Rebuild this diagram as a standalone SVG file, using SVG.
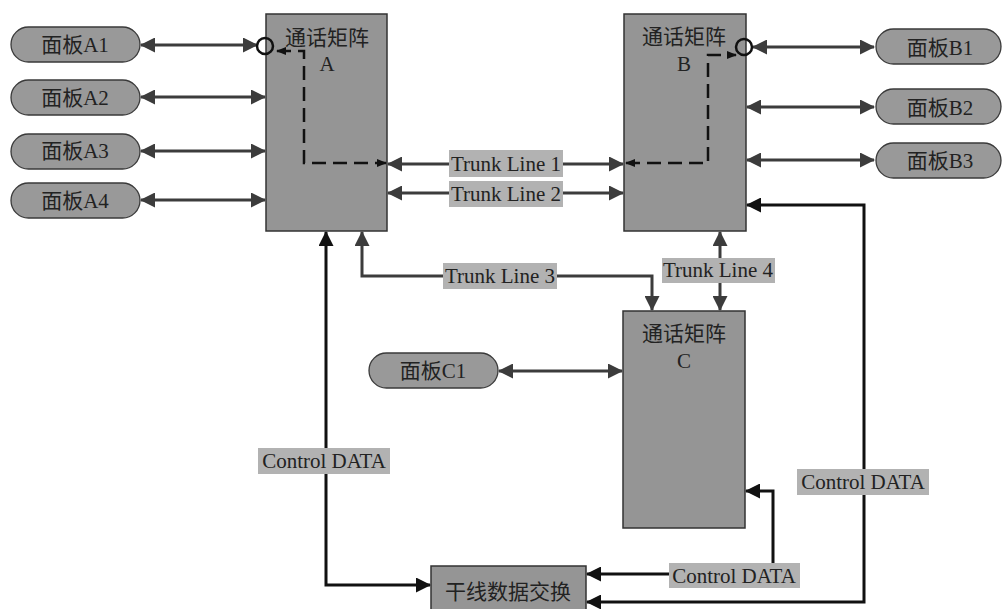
<svg xmlns="http://www.w3.org/2000/svg" width="1002" height="609" viewBox="0 0 1002 609">
<defs>
<marker id="ah" viewBox="0 0 15 15" refX="14" refY="7.5" markerWidth="15" markerHeight="15" markerUnits="userSpaceOnUse" orient="auto-start-reverse">
<path d="M0,0 L15,7.5 L0,15 z" fill="#3c3c3c"/>
</marker>
<marker id="ahk" viewBox="0 0 15 15" refX="14" refY="7.5" markerWidth="15" markerHeight="15" markerUnits="userSpaceOnUse" orient="auto-start-reverse">
<path d="M0,0 L15,7.5 L0,15 z" fill="#111"/>
</marker>
<marker id="ahs" viewBox="0 0 10 8" refX="9" refY="4" markerWidth="10" markerHeight="8" markerUnits="userSpaceOnUse" orient="auto-start-reverse">
<path d="M0,0 L10,4 L0,8 z" fill="#111"/>
</marker>
</defs>
<style>
.mx{fill:#959595;stroke:#333;stroke-width:1.5}
.pill{fill:#999;stroke:#3a3a3a;stroke-width:1.3}
.lbl{fill:#b2b2b2}
.t{font-family:"Liberation Serif","Noto Sans CJK SC",serif;font-size:21px;fill:#222;text-anchor:middle}
.ln{fill:none;stroke:#3c3c3c;stroke-width:3;marker-start:url(#ah);marker-end:url(#ah)}
.ctl{fill:none;stroke:#111;stroke-width:3;marker-start:url(#ahk);marker-end:url(#ahk)}
.dash{fill:none;stroke:#111;stroke-width:2.5;stroke-dasharray:14 7;marker-start:url(#ahs);marker-end:url(#ahs)}
.ring{fill:none;stroke:#111;stroke-width:2.5}
</style>
<rect width="1002" height="609" fill="#fff"/>

<g id="matrixA"><rect class="mx" x="266" y="14" width="121" height="217"/><text class="t" x="327" y="45">通话矩阵</text><text class="t" x="327" y="71">A</text></g>
<g id="matrixB"><rect class="mx" x="624" y="14" width="122" height="217"/><text class="t" x="684" y="44">通话矩阵</text><text class="t" x="684" y="71">B</text></g>
<g id="matrixC"><rect class="mx" x="623" y="311" width="122" height="217"/><text class="t" x="684" y="341">通话矩阵</text><text class="t" x="684" y="368">C</text></g>
<g id="exchange"><rect class="mx" x="431" y="566" width="155" height="50"/><text class="t" x="508" y="599">干线数据交换</text></g>

<g id="panelA1"><rect class="pill" x="11" y="27" width="129" height="35" rx="17.5"/><text class="t" x="75" y="52">面板A1</text></g>
<g id="panelA2"><rect class="pill" x="11" y="80" width="129" height="35" rx="17.5"/><text class="t" x="75" y="105">面板A2</text></g>
<g id="panelA3"><rect class="pill" x="11" y="134" width="129" height="35" rx="17.5"/><text class="t" x="75" y="158">面板A3</text></g>
<g id="panelA4"><rect class="pill" x="11" y="183" width="129" height="35" rx="17.5"/><text class="t" x="75" y="208">面板A4</text></g>
<g id="panelB1"><rect class="pill" x="876" y="29" width="125" height="35" rx="17.5"/><text class="t" x="940" y="55">面板B1</text></g>
<g id="panelB2"><rect class="pill" x="876" y="89" width="125" height="35" rx="17.5"/><text class="t" x="940" y="115">面板B2</text></g>
<g id="panelB3"><rect class="pill" x="876" y="143" width="125" height="35" rx="17.5"/><text class="t" x="940" y="168">面板B3</text></g>
<g id="panelC1"><rect class="pill" x="369" y="353" width="129" height="35" rx="17.5"/><text class="t" x="433" y="378">面板C1</text></g>

<g id="connectors">
<path class="ln" d="M141,45 H257"/>
<path class="ln" d="M141,97 H265"/>
<path class="ln" d="M141,151 H265"/>
<path class="ln" d="M141,200 H265"/>
<path class="ln" d="M753,47 H874"/>
<path class="ln" d="M747,107 H874"/>
<path class="ln" d="M747,160 H874"/>
<path class="ln" d="M499,371 H622"/>
<circle class="ring" cx="265" cy="46" r="8"/>
<circle class="ring" cx="744" cy="47" r="8"/>
<path class="dash" d="M277,51 H304 V163 H386"/>
<path class="dash" d="M626,163 H708 V55 H736"/>
<path class="ln" d="M388,164 H623"/>
<path class="ln" d="M388,193 H623"/>
<path class="ln" d="M362,232 V276 H652 V310"/>
<path class="ln" d="M720,232 V310"/>
<path class="ctl" d="M326,232 V585 H430"/>
<path class="ctl" d="M747,205 H864 V602 H587"/>
<path class="ctl" d="M746,491 H773 V574 H587"/>
<rect class="lbl" x="449" y="150" width="114" height="27"/><text class="t" x="506" y="171">Trunk Line 1</text>
<rect class="lbl" x="449" y="181" width="114" height="26"/><text class="t" x="506" y="201">Trunk Line 2</text>
<rect class="lbl" x="443" y="263" width="114" height="26"/><text class="t" x="500" y="283">Trunk Line 3</text>
<rect class="lbl" x="662" y="258" width="113" height="25"/><text class="t" x="718" y="277">Trunk Line 4</text>
<rect class="lbl" x="258" y="448" width="132" height="26"/><text class="t" x="324" y="468">Control DATA</text>
<rect class="lbl" x="797" y="469" width="132" height="26"/><text class="t" x="863" y="489">Control DATA</text>
<rect class="lbl" x="669" y="563" width="131" height="25"/><text class="t" x="734" y="583">Control DATA</text>
</g>
</svg>
